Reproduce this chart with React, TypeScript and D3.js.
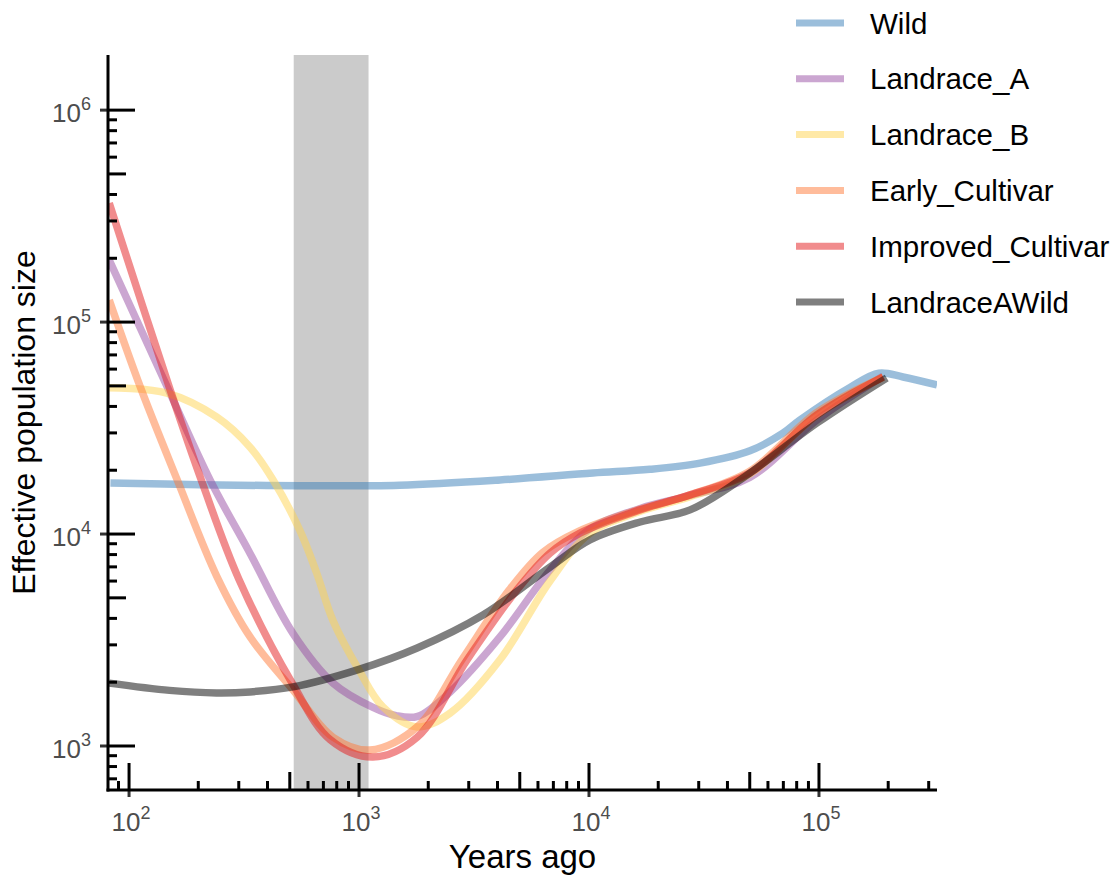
import React, { useRef, useEffect } from 'react';
import * as d3 from 'd3';

// series names + base colours (drawn at 50% opacity)
const seriesNames = ['Wild', 'Landrace_A', 'Landrace_B', 'Early_Cultivar', 'Improved_Cultivar', 'LandraceAWild'];
const seriesColors = ['#377EB8', '#984EA3', '#FFD34F', '#FF7A38', '#E41A1C', '#000000'];

// [years ago, effective population size]
const wild = [[83, 17400], [204, 17100], [553, 16900], [1500, 17000], [4100, 18000], [10400, 19400], [18400, 20200], [30400, 21600], [50100, 24700], [69700, 29900], [82600, 34500], [137000, 49300], [182000, 57400], [232000, 55100], [326000, 50500]];
const landraceA = [[82, 196000], [151, 46000], [225, 18000], [336, 8100], [516, 3400], [771, 1980], [1150, 1520], [1450, 1390], [1800, 1380], [2490, 1800], [4100, 3270], [6770, 6760], [10000, 10500], [16700, 13200], [27500, 15200], [50000, 18500], [98000, 34500], [190000, 55500]];
const landraceB = [[82, 49000], [146, 46200], [241, 35600], [336, 25700], [423, 18000], [553, 10400], [656, 6500], [771, 3900], [1000, 2280], [1270, 1530], [1790, 1230], [2490, 1430], [4100, 2550], [6770, 6000], [10000, 10000], [16700, 12800], [27500, 15000], [50000, 19200], [98000, 36500], [190000, 55000]];
const earlyCultivar = [[82, 127000], [112, 49300], [162, 18000], [241, 6300], [336, 3270], [516, 1840], [771, 1100], [1117, 957], [1790, 1230], [2800, 2550], [4500, 5450], [6300, 8200], [9000, 10300], [16700, 13100], [27500, 15300], [50000, 19800], [98000, 37500], [190000, 55000]];
const improvedCultivar = [[82, 364000], [151, 47800], [208, 17500], [300, 6140], [516, 1950], [750, 1070], [1150, 887], [1790, 1100], [2950, 2550], [4860, 5450], [6770, 8130], [9140, 10100], [16700, 13000], [27500, 15300], [50000, 19400], [98000, 36500], [190000, 55000]];
const landraceAWild = [[82, 1980], [150, 1830], [240, 1780], [336, 1800], [516, 1900], [1000, 2300], [1790, 2900], [3460, 4150], [6770, 6980], [10090, 9380], [16700, 11400], [27500, 13000], [45400, 18000], [98000, 33400], [197000, 54500]];

const seriesData = [wild, landraceA, landraceB, earlyCultivar, improvedCultivar, landraceAWild];

// shaded period
const shadeYears = [520, 1100];

const xMajor = [1e2, 1e3, 1e4, 1e5];
const yMajor = [1e3, 1e4, 1e5, 1e6];

const App = () => {
  const svgRef = useRef(null);
  const width = 1120;
  const height = 879;

  useEffect(() => {
    const svg = d3.select(svgRef.current);
    svg.selectAll('*').remove();

    const left = 108, right = 937, top = 55, bottom = 790;
    const x = d3.scaleLog().domain([81, 326000]).range([left, right]);
    const y = d3.scaleLog().domain([620, 1.82e6]).range([bottom, top]);

    const font = 'Liberation Sans, Arial, sans-serif';

    svg.append('clipPath').attr('id', 'plotclip')
      .append('rect')
      .attr('x', left).attr('y', top)
      .attr('width', right - left).attr('height', bottom - top);

    // grey shaded band
    svg.append('rect')
      .attr('x', x(shadeYears[0]))
      .attr('y', top)
      .attr('width', x(shadeYears[1]) - x(shadeYears[0]))
      .attr('height', bottom - top)
      .attr('fill', '#CBCBCB');

    // lines
    const line = d3.line()
      .x(d => x(d[0]))
      .y(d => y(d[1]))
      .curve(d3.curveCatmullRom.alpha(0.5));

    const g = svg.append('g').attr('clip-path', 'url(#plotclip)');
    seriesData.forEach((data, i) => {
      g.append('path')
        .attr('d', line(data))
        .attr('fill', 'none')
        .attr('stroke', seriesColors[i])
        .attr('stroke-opacity', 0.5)
        .attr('stroke-width', 7.5);
    });

    // log ticks (inside)
    const tickLen = v => {
      const lead = Math.round(v / Math.pow(10, Math.floor(Math.log10(v) + 1e-9)));
      if (lead === 1) return 27;
      if (lead === 5) return 18;
      return 9;
    };

    svg.selectAll('.xlog')
      .data(x.ticks())
      .enter()
      .append('line')
      .attr('x1', d => x(d)).attr('x2', d => x(d))
      .attr('y1', bottom).attr('y2', d => bottom - tickLen(d))
      .attr('stroke', '#000').attr('stroke-width', 3);

    svg.selectAll('.ylog')
      .data(y.ticks())
      .enter()
      .append('line')
      .attr('y1', d => y(d)).attr('y2', d => y(d))
      .attr('x1', left).attr('x2', d => left + tickLen(d))
      .attr('stroke', '#000').attr('stroke-width', 3);

    // outer grey ticks at the decades
    svg.selectAll('.xout')
      .data(xMajor)
      .enter()
      .append('line')
      .attr('x1', d => x(d)).attr('x2', d => x(d))
      .attr('y1', bottom).attr('y2', bottom + 7)
      .attr('stroke', '#333').attr('stroke-width', 3);

    svg.selectAll('.yout')
      .data(yMajor)
      .enter()
      .append('line')
      .attr('y1', d => y(d)).attr('y2', d => y(d))
      .attr('x1', left - 8).attr('x2', left)
      .attr('stroke', '#333').attr('stroke-width', 3);

    // axis lines
    svg.append('line')
      .attr('x1', left).attr('x2', left)
      .attr('y1', top).attr('y2', bottom + 1.5)
      .attr('stroke', '#000').attr('stroke-width', 3);
    svg.append('line')
      .attr('x1', left - 1.5).attr('x2', right)
      .attr('y1', bottom).attr('y2', bottom)
      .attr('stroke', '#000').attr('stroke-width', 3);

    // tick labels 10^n
    const xl = svg.selectAll('.xlab')
      .data(xMajor)
      .enter()
      .append('text')
      .attr('x', d => x(d) + 2)
      .attr('y', bottom + 41)
      .attr('text-anchor', 'middle')
      .attr('font-family', font)
      .attr('font-size', 26)
      .attr('fill', '#4D4D4D');
    xl.append('tspan').text('10');
    xl.append('tspan').attr('dy', -12).attr('font-size', 18).text(d => Math.round(Math.log10(d)));

    const yl = svg.selectAll('.ylab')
      .data(yMajor)
      .enter()
      .append('text')
      .attr('x', 91)
      .attr('y', d => y(d) + 12)
      .attr('text-anchor', 'end')
      .attr('font-family', font)
      .attr('font-size', 26)
      .attr('fill', '#4D4D4D');
    yl.append('tspan').text('10');
    yl.append('tspan').attr('dy', -12).attr('font-size', 18).text(d => Math.round(Math.log10(d)));

    // axis titles
    svg.append('text')
      .attr('x', (left + right) / 2)
      .attr('y', 868)
      .attr('text-anchor', 'middle')
      .attr('font-family', font)
      .attr('font-size', 33)
      .attr('fill', '#000')
      .text('Years ago');

    svg.append('text')
      .attr('transform', `translate(35, ${(top + bottom) / 2}) rotate(-90)`)
      .attr('text-anchor', 'middle')
      .attr('font-family', font)
      .attr('font-size', 32)
      .attr('fill', '#000')
      .text('Effective population size');

    // legend
    const legend = svg.append('g');
    seriesNames.forEach((name, i) => {
      const cy = 23 + i * 55.8;
      legend.append('line')
        .attr('x1', 796).attr('x2', 844)
        .attr('y1', cy).attr('y2', cy)
        .attr('stroke', seriesColors[i])
        .attr('stroke-opacity', 0.5)
        .attr('stroke-width', 7);
      legend.append('text')
        .attr('x', 870)
        .attr('y', cy)
        .attr('dominant-baseline', 'central')
        .attr('font-family', font)
        .attr('font-size', 29.5)
        .attr('fill', '#000')
        .text(name);
    });
  }, []);

  return (
    <svg
      ref={svgRef}
      width={width}
      height={height}
      style={{ position: 'absolute', left: 0, top: 0, background: '#fff' }}
    />
  );
};

export default App;
